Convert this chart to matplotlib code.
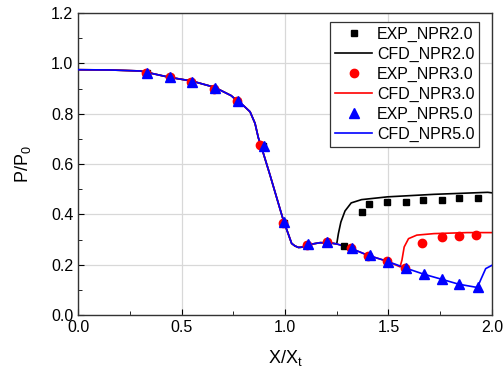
import matplotlib
matplotlib.use('Agg')
import matplotlib.pyplot as plt

# experimental points
exp2_x = [0.331, 0.444, 0.548, 0.658, 0.769, 0.895, 0.995, 1.108, 1.202, 1.285, 1.374, 1.408, 1.495, 1.584, 1.669, 1.758, 1.839, 1.931]
exp2_y = [0.960, 0.945, 0.928, 0.900, 0.850, 0.672, 0.368, 0.280, 0.290, 0.275, 0.410, 0.440, 0.450, 0.450, 0.459, 0.459, 0.466, 0.467]

exp3_x = [0.328, 0.444, 0.545, 0.658, 0.769, 0.879, 0.990, 1.108, 1.202, 1.320, 1.400, 1.495, 1.580, 1.660, 1.758, 1.840, 1.924]
exp3_y = [0.960, 0.945, 0.925, 0.900, 0.850, 0.675, 0.365, 0.280, 0.290, 0.265, 0.236, 0.214, 0.186, 0.287, 0.310, 0.314, 0.318]

exp5_x = [0.335, 0.444, 0.550, 0.660, 0.772, 0.897, 0.997, 1.110, 1.202, 1.322, 1.410, 1.497, 1.585, 1.670, 1.760, 1.842, 1.932]
exp5_y = [0.960, 0.945, 0.928, 0.902, 0.852, 0.672, 0.370, 0.282, 0.290, 0.266, 0.240, 0.212, 0.188, 0.163, 0.142, 0.123, 0.113]

# CFD curves (shared upstream part, then each NPR branches off)
up_x = [0.0, 0.15, 0.30, 0.33, 0.44, 0.55, 0.66, 0.74, 0.774, 0.80, 0.831, 0.855, 0.871, 0.887, 0.927, 0.96, 0.992, 1.016,
        1.032, 1.048, 1.065, 1.08, 1.113, 1.17, 1.218, 1.25]
up_y = [0.975, 0.974, 0.970, 0.965, 0.945, 0.930, 0.905, 0.872, 0.847, 0.832, 0.808, 0.762, 0.705, 0.665, 0.558, 0.466, 0.377, 0.322,
        0.285, 0.275, 0.269, 0.270, 0.280, 0.288, 0.287, 0.283]

cfd2_x = up_x + [1.258, 1.27, 1.29, 1.32, 1.37, 1.495, 1.72, 1.98, 2.0]
cfd2_y = up_y + [0.324, 0.370, 0.414, 0.446, 0.459, 0.470, 0.480, 0.488, 0.486]

cfd3_x = up_x + [1.32, 1.40, 1.495, 1.556, 1.565, 1.576, 1.597, 1.637, 1.72, 1.88, 2.0]
cfd3_y = up_y + [0.265, 0.238, 0.214, 0.192, 0.218, 0.271, 0.304, 0.318, 0.324, 0.328, 0.328]

cfd5_x = up_x + [1.32, 1.40, 1.495, 1.58, 1.67, 1.76, 1.84, 1.93, 1.945, 1.97, 2.0]
cfd5_y = up_y + [0.265, 0.238, 0.214, 0.188, 0.163, 0.142, 0.123, 0.110, 0.139, 0.185, 0.198]

plt.rcParams['font.family'] = ['Liberation Sans', 'DejaVu Sans']
plt.rcParams['mathtext.fontset'] = 'custom'
plt.rcParams['mathtext.rm'] = 'Liberation Sans'

fig = plt.figure(figsize=(5.04, 3.73), dpi=100)
ax = fig.add_axes([0.155, 0.155, 0.821, 0.81])

ax.plot(cfd2_x, cfd2_y, color='black', lw=1.2, label='CFD_NPR2.0', zorder=2)
ax.plot(cfd3_x, cfd3_y, color='red', lw=1.2, label='CFD_NPR3.0', zorder=2)
ax.plot(cfd5_x, cfd5_y, color='blue', lw=1.2, label='CFD_NPR5.0', zorder=3)
ax.plot(exp2_x, exp2_y, 's', color='black', ms=5, ls='none', label='EXP_NPR2.0', zorder=4)
ax.plot(exp3_x, exp3_y, 'o', color='red', ms=6, ls='none', label='EXP_NPR3.0', zorder=5)
ax.plot(exp5_x, exp5_y, '^', color='blue', ms=7, ls='none', label='EXP_NPR5.0', zorder=6)

ax.set_xlim(0, 2.0)
ax.set_ylim(0, 1.2)
ax.set_xticks([0.0, 0.5, 1.0, 1.5, 2.0])
ax.set_xticks([0.25, 0.75, 1.25, 1.75], minor=True)
ax.set_yticks([0.0, 0.2, 0.4, 0.6, 0.8, 1.0, 1.2])
ax.set_yticks([0.1, 0.3, 0.5, 0.7, 0.9, 1.1], minor=True)
ax.tick_params(which='both', direction='in', labelsize=11.5, top=False, right=False)
ax.tick_params(which='major', length=4)
ax.tick_params(which='minor', length=3)
ax.grid(True, which='major', color='#d8d8d8', lw=0.9)
ax.set_axisbelow(True)
for s in ax.spines.values():
    s.set_linewidth(1.0)
    s.set_color('#333333')

ax.set_xlabel(r'$\mathregular{X/X_t}$', fontsize=13, labelpad=9)
ax.set_ylabel(r'$\mathregular{P/P_0}$', fontsize=13, labelpad=13)

handles, labels = ax.get_legend_handles_labels()
order = [3, 0, 4, 1, 5, 2]
leg = ax.legend([handles[i] for i in order], [labels[i] for i in order],
                loc='upper right', bbox_to_anchor=(0.969, 0.97), borderaxespad=0,
                fontsize=11.5, fancybox=False, framealpha=1, edgecolor='#333333',
                labelspacing=0.3, handlelength=2.3, handletextpad=0.3, borderpad=0.3)
leg.get_frame().set_linewidth(0.9)

plt.savefig('out.png', dpi=100)
